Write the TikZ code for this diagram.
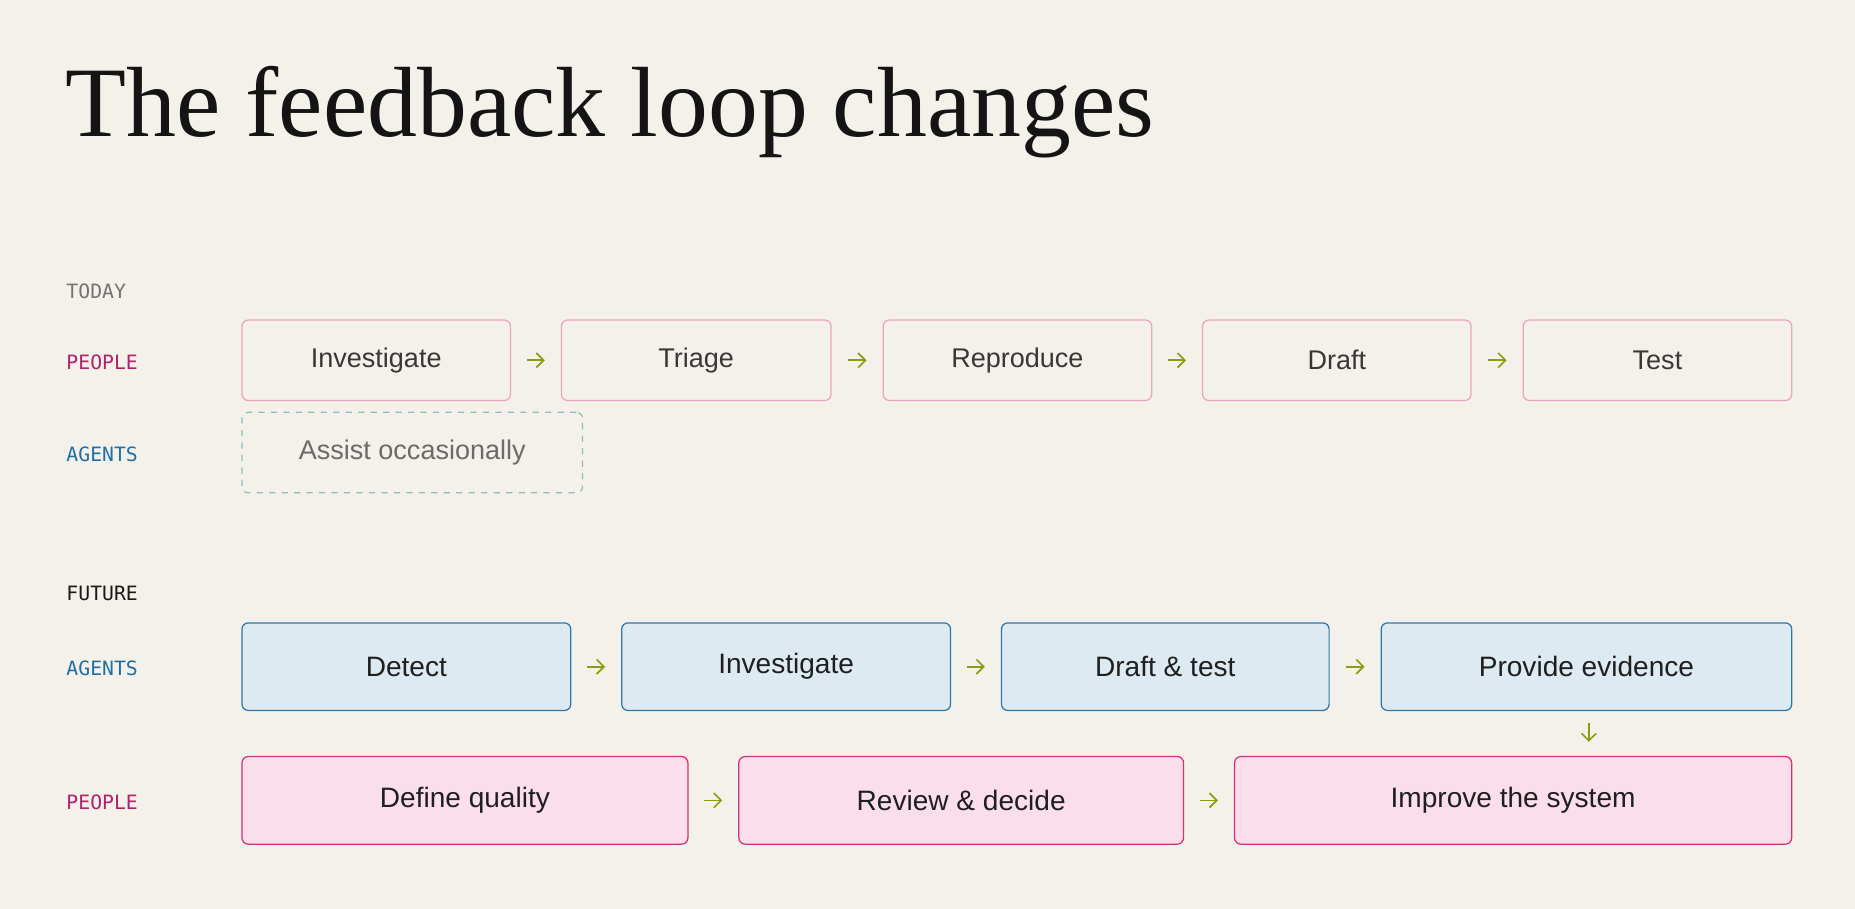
\documentclass[tikz,border=0pt]{standalone}
\usepackage{fontspec}
\setmainfont{Liberation Serif}
\setsansfont{Liberation Sans}
\setmonofont{DejaVu Sans Mono}
\usetikzlibrary{arrows.meta}
\definecolor{bg}{HTML}{F4F1EA}
\definecolor{pinkline}{HTML}{EBA3C3}
\definecolor{pinkdeep}{HTML}{D1307C}
\definecolor{pinkfill}{HTML}{FBDEEB}
\definecolor{blueline}{HTML}{2A78AE}
\definecolor{bluefill}{HTML}{DEEAF2}
\definecolor{tealline}{HTML}{8DBDC2}
\definecolor{olive}{HTML}{8C9C12}
\definecolor{magtxt}{HTML}{B0226A}
\definecolor{bluetxt}{HTML}{1F6FA6}
\begin{document}
\begin{tikzpicture}[x=0.02cm,y=-0.02cm,
    box/.style={draw,rounded corners=3pt,anchor=north west,font=\sffamily\fontsize{13}{15}\selectfont,line width=0.6pt},
    oldbox/.style={box,draw=pinkline,text=black!78,minimum height=1.36cm},
    agbox/.style={box,draw=blueline,fill=bluefill,text=black!88,minimum height=1.48cm,font=\sffamily\fontsize{13.5}{15}\selectfont},
    ppbox/.style={box,draw=pinkdeep,fill=pinkfill,text=black!88,minimum height=1.48cm,font=\sffamily\fontsize{13.5}{15}\selectfont},
    lbl/.style={anchor=west,font=\ttfamily\fontsize{9.5}{11}\selectfont},
    flow/.style={-{Straight Barb[length=3.5pt,width=7pt]},draw=olive,line width=0.8pt,shorten <=0.27cm,shorten >=0.27cm}]
    \fill[bg] (0,0) rectangle (1568,768);
    \node[anchor=base west,font=\fontsize{48}{50}\selectfont,text=black!92,inner sep=0] (title) at (55,115) {The feedback loop changes};

    % today
    \node[lbl,text=black!55] (today) at (50,246) {TODAY};
    \node[lbl,text=magtxt] (tpeople) at (50,306) {PEOPLE};
    \node[lbl,text=bluetxt] (tagents) at (50,384) {AGENTS};
    \node[oldbox,minimum width=4.54cm] (t1) at (204,270) {Investigate};
    \node[oldbox,minimum width=4.56cm] (t2) at (474,270) {Triage};
    \node[oldbox,minimum width=4.54cm] (t3) at (746,270) {Reproduce};
    \node[oldbox,minimum width=4.54cm] (t4) at (1016,270) {Draft};
    \node[oldbox,minimum width=4.54cm] (t5) at (1287,270) {Test};
    \node[box,draw=tealline,dashed,text=black!58,minimum width=5.76cm,minimum height=1.36cm] (assist) at (204,348) {Assist occasionally};
    \draw[flow] (t1.east) -- (t2.west);
    \draw[flow] (t2.east) -- (t3.west);
    \draw[flow] (t3.east) -- (t4.west);
    \draw[flow] (t4.east) -- (t5.west);

    % future
    \node[lbl,text=black!90] (future) at (50,502) {FUTURE};
    \node[lbl,text=bluetxt] (fagents) at (50,565) {AGENTS};
    \node[lbl,text=magtxt] (fpeople) at (50,678) {PEOPLE};
    \node[agbox,minimum width=5.56cm] (a1) at (204,526) {Detect};
    \node[agbox,minimum width=5.56cm] (a2) at (525,526) {Investigate};
    \node[agbox,minimum width=5.54cm] (a3) at (846,526) {Draft \& test};
    \node[agbox,minimum width=6.94cm] (a4) at (1167,526) {Provide evidence};
    \node[ppbox,minimum width=7.54cm] (p1) at (204,639) {Define quality};
    \node[ppbox,minimum width=7.52cm] (p2) at (624,639) {Review \& decide};
    \node[ppbox,minimum width=9.42cm] (p3) at (1043,639) {Improve the system};
    \draw[flow] (a1.east) -- (a2.west);
    \draw[flow] (a2.east) -- (a3.west);
    \draw[flow] (a3.east) -- (a4.west);
    \draw[flow] (p1.east) -- (p2.west);
    \draw[flow] (p2.east) -- (p3.west);
    \coordinate (down) at (1343,639);
    \draw[flow,shorten <=0.2cm,shorten >=0.24cm] (a4.south -| down) -- (down);
\end{tikzpicture}
\end{document}
